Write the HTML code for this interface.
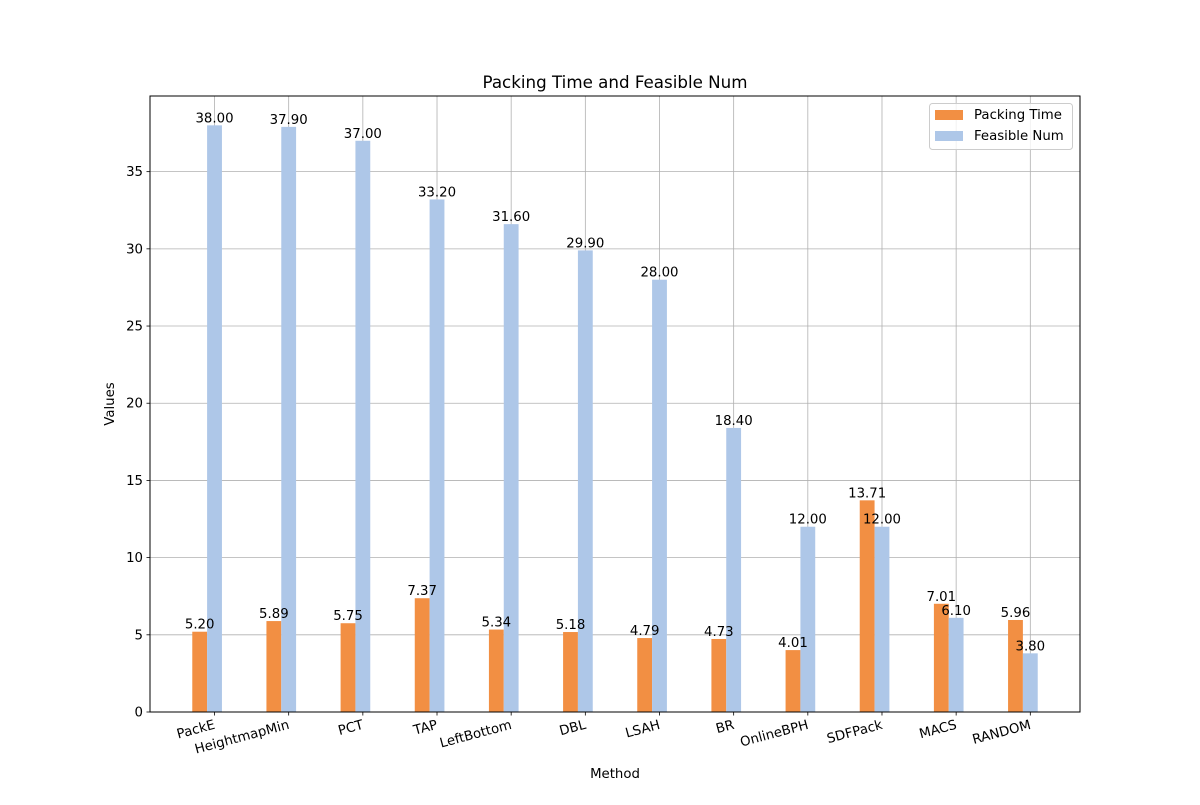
<!DOCTYPE html>
<html><head><meta charset="utf-8"><style>body{margin:0;background:#fff}svg{font-family:"DejaVu Sans","Liberation Sans",sans-serif}</style></head>
<body>
<svg id="chart" width="1200" height="800">
<text x="615" y="88" text-anchor="middle" font-size="16.7">Packing Time and Feasible Num</text>
<text x="615" y="778" text-anchor="middle" font-size="13.3">Method</text>
<text x="0" y="0" transform="translate(114,404) rotate(-90)" text-anchor="middle" font-size="13.3">Values</text>
</svg>
<script>
const categories=["PackE","HeightmapMin","PCT","TAP","LeftBottom","DBL","LSAH","BR","OnlineBPH","SDFPack","MACS","RANDOM"];
const packingTime=[5.20,5.89,5.75,7.37,5.34,5.18,4.79,4.73,4.01,13.71,7.01,5.96];
const feasibleNum=[38.00,37.90,37.00,33.20,31.60,29.90,28.00,18.40,12.00,12.00,6.10,3.80];
const yTicks=[0,5,10,15,20,25,30,35];
const L=150,R=1080,T=96,B=712,xmin=-0.87,xmax=11.67,ymax=39.9;
const sx=v=>L+(v-xmin)/(xmax-xmin)*(R-L);
const sy=v=>B-v/ymax*(B-T);
const svg=document.getElementById('chart');
const NS='http://www.w3.org/2000/svg';
function mk(tag,attrs,parent){const e=document.createElementNS(NS,tag);for(const k in attrs)e.setAttribute(k,attrs[k]);(parent||svg).appendChild(e);return e;}
const grid=mk('g',{});


yTicks.forEach(t=>{
 mk('line',{x1:L,x2:R,y1:sy(t),y2:sy(t),stroke:'#b0b0b0','stroke-width':0.8},grid);
 mk('line',{x1:L-3.5,x2:L,y1:sy(t),y2:sy(t),stroke:'#000','stroke-width':0.8});
 const tx=mk('text',{x:L-7,y:sy(t)+4.5,'text-anchor':'end','font-size':13.3});
 tx.textContent=t;
 
 
});
categories.forEach((c,i)=>{
 mk('line',{x1:sx(i),x2:sx(i),y1:T,y2:B,stroke:'#b0b0b0','stroke-width':0.8},grid);
});
const w=0.2*(R-L)/(xmax-xmin);
function label(x,v){const t=mk('text',{x:x,y:sy(v)-3,'text-anchor':'middle','font-size':13.3});t.textContent=v.toFixed(2);
 
 }
categories.forEach((c,i)=>{
 const xo=sx(i-0.2);
 const r1=mk('rect',{x:xo-w/2,y:sy(packingTime[i]),width:w,height:B-sy(packingTime[i]),fill:'#f28f43'});
 
 
 const xb=sx(i);
 const r2=mk('rect',{x:xb-w/2,y:sy(feasibleNum[i]),width:w,height:B-sy(feasibleNum[i]),fill:'#aec7e8'});
 
 
});
categories.forEach((c,i)=>{
 label(sx(i-0.2),packingTime[i]);label(sx(i),feasibleNum[i]);
 mk('line',{x1:sx(i),x2:sx(i),y1:B,y2:B+3.5,stroke:'#000','stroke-width':0.8});
 const t=mk('text',{transform:`translate(${sx(i)-1},${B+8}) rotate(-15)`,'text-anchor':'end','font-size':13.3,'dominant-baseline':'hanging'});
 t.textContent=c;
 
 
});
const frame=mk('rect',{x:L,y:T,width:R-L,height:B-T,fill:'none',stroke:'#000','stroke-width':1});


const lg=mk('g',{});


mk('rect',{x:929.5,y:103.5,width:143,height:46,rx:3,fill:'#fff','fill-opacity':0.8,stroke:'#ccc'},lg);
mk('rect',{x:935,y:110,width:28,height:10,fill:'#f28f43'},lg);
mk('rect',{x:935,y:131,width:28,height:10,fill:'#aec7e8'},lg);
const l1=mk('text',{x:974,y:119,'font-size':13.3},lg);l1.textContent='Packing Time';


const l2=mk('text',{x:974,y:140,'font-size':13.3},lg);l2.textContent='Feasible Num';


</script>
</body></html>
